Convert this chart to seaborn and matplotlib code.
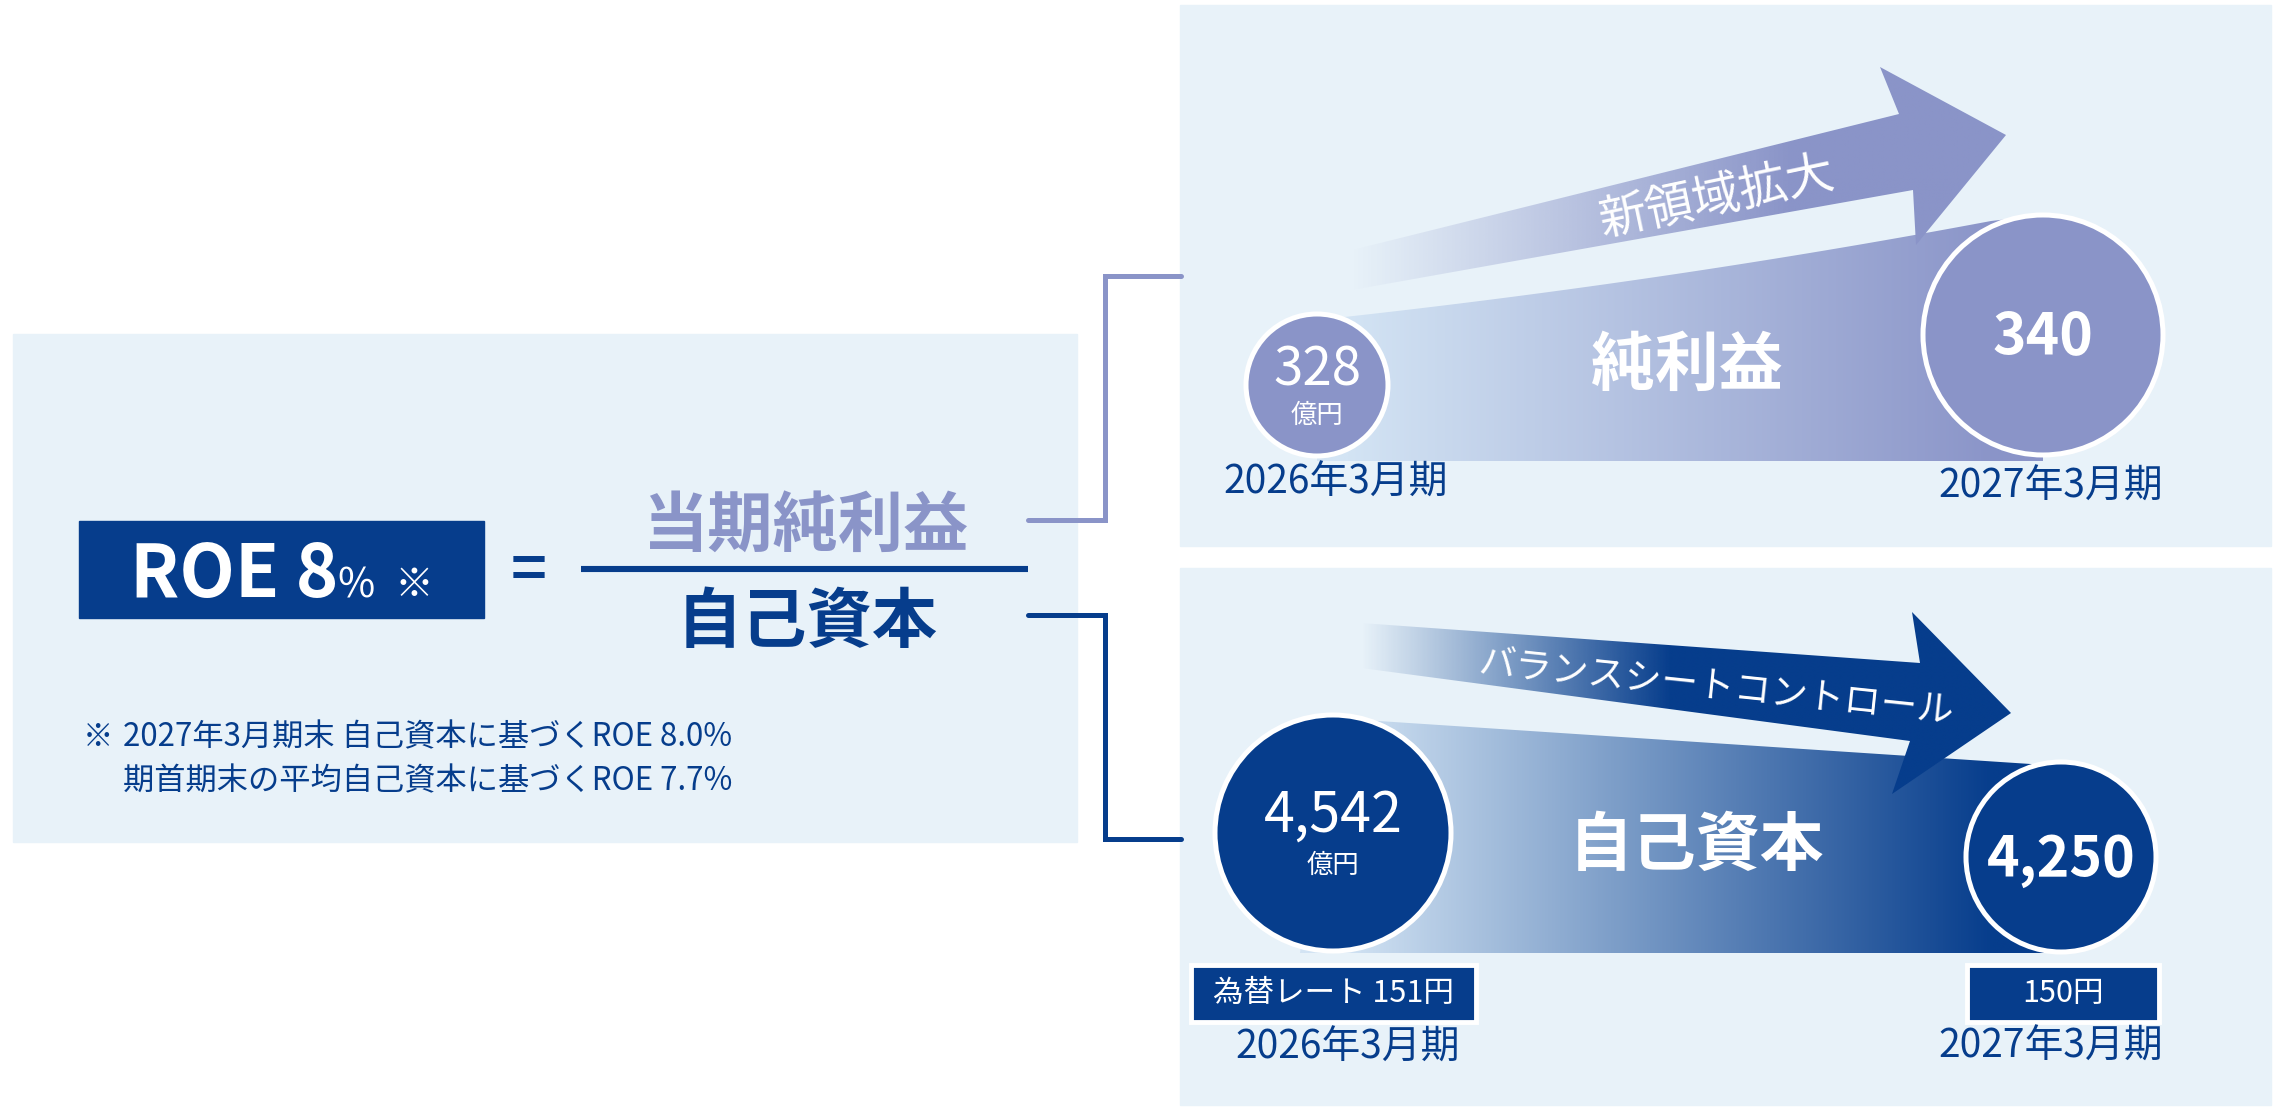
import numpy as np
import matplotlib.pyplot as plt
import seaborn as sns
from matplotlib.patches import Polygon, Circle, Rectangle

sns.set_theme(style='white')
plt.rcParams['font.family'] = ['Noto Sans CJK JP', 'DejaVu Sans']

# --- data -------------------------------------------------------------
periods = ['2026年3月期', '2027年3月期']
net_income = [328, 340]          # 億円
equity = [4542, 4250]            # 億円
unit = '億円'
fx_rates = ['為替レート 151円', '150円']
roe_target = 8
numerator_label = '当期純利益'
denominator_label = '自己資本'
tube_labels = ['純利益', '自己資本']
arrow_labels = ['新領域拡大', 'バランスシートコントロール']
footnotes = ['2027年3月期末 自己資本に基づくROE 8.0%',
             '期首期末の平均自己資本に基づくROE 7.7%']

COLORS = {
    'navy': '#063d8c',
    'lavender': '#8a94c8',
    'panel': '#e8f2f9',
    'tube_light': '#d3e4f4',
    'white': '#ffffff',
}


def gradient_patch(ax, verts, x_start, x_end, c_from, c_to,
                   alpha_from=1.0, alpha_to=1.0, z=2):
    verts = np.asarray(verts, dtype=float)
    poly = Polygon(verts, closed=True, facecolor='none', edgecolor='none')
    ax.add_patch(poly)
    xmin, xmax = verts[:, 0].min(), verts[:, 0].max()
    ymin, ymax = verts[:, 1].min(), verts[:, 1].max()
    xs = np.linspace(xmin, xmax, 600)
    t = np.clip((xs - x_start) / (x_end - x_start), 0, 1)
    cmap = sns.blend_palette([c_from, c_to], as_cmap=True)
    rgba = cmap(t)
    rgba[:, 3] = alpha_from + (alpha_to - alpha_from) * t
    im = ax.imshow(rgba[None, :, :], extent=[xmin, xmax, ymax, ymin],
                   aspect='auto', interpolation='bilinear', zorder=z)
    im.set_clip_path(poly)


def bezier(p0, c, p2, n=60):
    t = np.linspace(0, 1, n)[:, None]
    p0, c, p2 = map(np.asarray, (p0, c, p2))
    return (1 - t) ** 2 * p0 + 2 * (1 - t) * t * c + t ** 2 * p2


fig = plt.figure(figsize=(22.8, 11.07), dpi=100)
ax = fig.add_axes([0, 0, 1, 1])

# --- panels -----------------------------------------------------------
ax.add_patch(Rectangle((13, 334), 1064, 508, color=COLORS['panel'], zorder=0))
ax.add_patch(Rectangle((1180, 5), 1091, 541, color=COLORS['panel'], zorder=0))
ax.add_patch(Rectangle((1180, 568), 1091, 537, color=COLORS['panel'], zorder=0))

# --- ROE formula ------------------------------------------------------
ax.add_patch(Rectangle((79, 521), 405, 97, color=COLORS['navy'], zorder=1))
ax.text(130, 597, f'ROE {roe_target}', color='white', fontsize=52,
        fontweight='bold', ha='left', va='baseline', zorder=2)
ax.text(337, 597, '%', color='white', fontsize=29, ha='left', va='baseline', zorder=2)
ax.text(394, 597, '※', color='white', fontsize=28, ha='left', va='baseline', zorder=2)
ax.text(529, 572, '=', color=COLORS['navy'], fontsize=44, fontweight='bold',
        ha='center', va='center', zorder=2)

ax.plot([581, 1028], [569, 569], color=COLORS['navy'], lw=4.4,
        solid_capstyle='butt', zorder=2)
ax.text(805, 526, numerator_label, color=COLORS['lavender'], fontsize=47,
        fontweight='bold', ha='center', va='center', zorder=2)
ax.text(807, 622, denominator_label, color=COLORS['navy'], fontsize=47,
        fontweight='bold', ha='center', va='center', zorder=2)

# connectors
ax.plot([1028, 1105, 1105, 1181], [520, 520, 276, 276], color=COLORS['lavender'],
        lw=3.6, solid_joinstyle='miter', zorder=2)
ax.plot([1028, 1105, 1105, 1181], [615, 615, 839, 839], color=COLORS['navy'],
        lw=3.6, solid_joinstyle='miter', zorder=2)

# footnotes
ax.text(83, 737, '※', color=COLORS['navy'], fontsize=22, ha='left', va='center')
ax.text(123, 737, footnotes[0], color=COLORS['navy'], fontsize=22.5, ha='left', va='center')
ax.text(123, 781, footnotes[1], color=COLORS['navy'], fontsize=22.5, ha='left', va='center')

# --- net income panel -------------------------------------------------
ni_centers = [(1317, 385), (2043, 335)]
ni_radius = [71, 120]

top_edge = bezier((1317, 320), (1661, 283), (1991, 221))
tube = np.vstack([top_edge, [(2043, 215), (2043, 461), (1317, 461)]])
gradient_patch(ax, tube, 1345, 2000, COLORS['tube_light'], COLORS['lavender'], z=2)

arrow_top = [(1352, 250), (1899, 114), (1880, 67), (2006, 135),
             (1916, 245), (1913, 190), (1352, 290)]
gradient_patch(ax, arrow_top, 1352, 1790, COLORS['lavender'], COLORS['lavender'],
               alpha_from=0.0, alpha_to=1.0, z=3)
ax.text(1717, 198, arrow_labels[0], color='white', fontsize=34.5, rotation=12,
        rotation_mode='anchor', ha='center', va='center', zorder=5)

for (cx, cy), r in zip(ni_centers, ni_radius):
    ax.add_patch(Circle((cx, cy), r, facecolor=COLORS['lavender'],
                        edgecolor='white', lw=3.6, zorder=4))
ax.text(ni_centers[0][0], 370, f'{net_income[0]:,}', color='white', fontsize=38,
        ha='center', va='center', zorder=5)
ax.text(ni_centers[0][0], 415, unit, color='white', fontsize=19,
        ha='center', va='center', zorder=5)
ax.text(ni_centers[1][0], 337, f'{net_income[1]:,}', color='white', fontsize=41,
        fontweight='bold', ha='center', va='center', zorder=5)
ax.text(1687, 366, tube_labels[0], color='white', fontsize=46, fontweight='bold',
        ha='center', va='center', zorder=5)
ax.text(1336, 483, periods[0], color=COLORS['navy'], fontsize=28,
        ha='center', va='center', zorder=5)
ax.text(2051, 487, periods[1], color=COLORS['navy'], fontsize=28,
        ha='center', va='center', zorder=5)

# --- equity panel -----------------------------------------------------
eq_centers = [(1333, 833), (2061, 857)]
eq_radius = [118, 95]

tube = [(1333, 718), (2061, 766), (2061, 953), (1300, 953)]
gradient_patch(ax, tube, 1340, 1995, COLORS['tube_light'], COLORS['navy'], z=2)

arrow_bot = [(1361, 623), (1920, 663), (1912, 612), (2011, 713),
             (1892, 794), (1910, 741), (1361, 668)]
gradient_patch(ax, arrow_bot, 1361, 1670, COLORS['navy'], COLORS['navy'],
               alpha_from=0.0, alpha_to=1.0, z=3)
ax.text(1716, 687, arrow_labels[1], color='white', fontsize=26.5, rotation=-6,
        rotation_mode='anchor', ha='center', va='center', zorder=5)

for (cx, cy), r in zip(eq_centers, eq_radius):
    ax.add_patch(Circle((cx, cy), r, facecolor=COLORS['navy'],
                        edgecolor='white', lw=3.6, zorder=4))
ax.text(eq_centers[0][0], 816, f'{equity[0]:,}', color='white', fontsize=40,
        ha='center', va='center', zorder=5)
ax.text(eq_centers[0][0], 865, unit, color='white', fontsize=19,
        ha='center', va='center', zorder=5)
ax.text(eq_centers[1][0], 860, f'{equity[1]:,}', color='white', fontsize=40,
        fontweight='bold', ha='center', va='center', zorder=5)
ax.text(1697, 846, tube_labels[1], color='white', fontsize=46, fontweight='bold',
        ha='center', va='center', zorder=5)

fx_boxes = [(1191, 965, 285, 57), (1967, 965, 192, 57)]
for (x, y, w, h), label in zip(fx_boxes, fx_rates):
    ax.add_patch(Rectangle((x, y), w, h, facecolor=COLORS['navy'],
                           edgecolor='white', lw=3.5, zorder=4))
    ax.text(x + w / 2, y + h / 2, label, color='white', fontsize=22,
            ha='center', va='center', zorder=5)
ax.text(1348, 1048, periods[0], color=COLORS['navy'], fontsize=28,
        ha='center', va='center', zorder=5)
ax.text(2051, 1047, periods[1], color=COLORS['navy'], fontsize=28,
        ha='center', va='center', zorder=5)

ax.set_xlim(0, 2280)
ax.set_ylim(1107, 0)
ax.axis('off')

plt.savefig('out.png', dpi=100, facecolor='white')
plt.close()
